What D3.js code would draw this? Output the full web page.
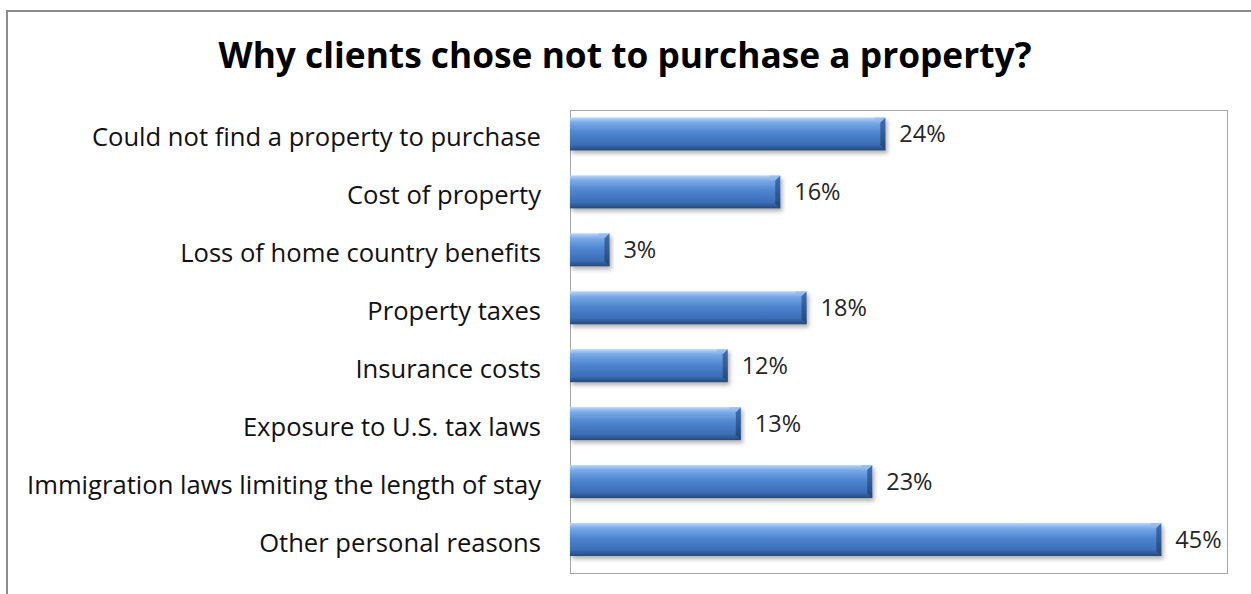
<!DOCTYPE html>
<meta charset="utf-8">
<style>
body { margin: 0; background: #fff; }
svg text { font-family: "Open Sans", sans-serif; }
</style>
<svg id="svg" width="1251" height="594"></svg>
<script src="https://cdn.jsdelivr.net/npm/d3@7"></script>
<script>
// chart data
var categories = [
    "Could not find a property to purchase",
    "Cost of property",
    "Loss of home country benefits",
    "Property taxes",
    "Insurance costs",
    "Exposure to U.S. tax laws",
    "Immigration laws limiting the length of stay",
    "Other personal reasons"
];
var shares = [0.24, 0.16, 0.03, 0.18, 0.12, 0.13, 0.23, 0.45];
var title = "Why clients chose not to purchase a property?";

var svg = d3.select("svg"),
    width = +svg.attr("width"),
    height = +svg.attr("height");

// plot box
var plotLeft = 570, plotRight = 1227, plotTop = 110, plotBottom = 573;

var x = d3.scaleLinear()
    .domain([0, 0.5])
    .range([plotLeft, plotRight]);

var y = d3.scaleBand()
    .domain(categories)
    .range([105, 568.5])
    .padding(0);

var barH = y.bandwidth() * 0.57;
var fmt = d3.format(".0%");

var defs = svg.append("defs");

var face = defs.append("linearGradient")
    .attr("id", "barFace")
    .attr("x1", 0).attr("y1", 0).attr("x2", 0).attr("y2", 1);
face.append("stop").attr("offset", "0%").attr("stop-color", "#bcd5f4");
face.append("stop").attr("offset", "16%").attr("stop-color", "#78a8e6");
face.append("stop").attr("offset", "45%").attr("stop-color", "#4f86d0");
face.append("stop").attr("offset", "82%").attr("stop-color", "#3b6db6");
face.append("stop").attr("offset", "100%").attr("stop-color", "#24497d");

var end = defs.append("linearGradient")
    .attr("id", "barEnd")
    .attr("x1", 0).attr("y1", 0).attr("x2", 0).attr("y2", 1);
end.append("stop").attr("offset", "0%").attr("stop-color", "#3f70b3");
end.append("stop").attr("offset", "100%").attr("stop-color", "#23477a");

var shadow = defs.append("filter")
    .attr("id", "shadow")
    .attr("x", "-5%").attr("y", "-30%")
    .attr("width", "115%").attr("height", "180%");
shadow.append("feDropShadow")
    .attr("dx", 2).attr("dy", 3)
    .attr("stdDeviation", 2)
    .attr("flood-color", "#000")
    .attr("flood-opacity", 0.3);

// outer chart border (left and top only are visible)
svg.append("path")
    .attr("d", "M7," + height + "V11H" + width)
    .attr("fill", "none")
    .attr("stroke", "#8c8c8c")
    .attr("stroke-width", 2);

svg.append("text")
    .attr("x", 625)
    .attr("y", 68)
    .attr("text-anchor", "middle")
    .attr("font-size", "35.3px")
    .attr("font-weight", "bold")
    .attr("fill", "#000")
    .text(title);

svg.append("rect")
    .attr("x", plotLeft + 0.5)
    .attr("y", plotTop + 0.5)
    .attr("width", plotRight - plotLeft)
    .attr("height", plotBottom - plotTop)
    .attr("fill", "none")
    .attr("stroke", "#a6a6a6")
    .attr("stroke-width", 1);

// category labels
svg.append("g")
    .selectAll("text")
    .data(categories)
    .enter().append("text")
    .attr("x", 541)
    .attr("y", function(d) { return y(d) + y.bandwidth() / 2; })
    .attr("dy", "0.47em")
    .attr("text-anchor", "end")
    .attr("font-size", "25.6px")
    .attr("fill", "#111")
    .text(function(d) { return d; });

var bars = svg.append("g")
    .selectAll("g")
    .data(shares)
    .enter().append("g")
    .attr("filter", "url(#shadow)");

function barTop(d, i) { return y(categories[i]) + (y.bandwidth() - barH) / 2; }

bars.append("rect")
    .attr("x", x(0))
    .attr("y", barTop)
    .attr("width", function(d) { return x(d) - x(0); })
    .attr("height", barH)
    .attr("fill", "url(#barFace)");

// bevelled right end
var bev = 5;
bars.append("polygon")
    .attr("points", function(d, i) {
        var x1 = x(d), t = barTop(d, i);
        return [[x1 - bev, t + bev], [x1, t], [x1, t + barH], [x1 - bev, t + barH - bev]].join(" ");
    })
    .attr("fill", "url(#barEnd)");
bars.append("polygon")
    .attr("points", function(d, i) {
        var x1 = x(d), t = barTop(d, i);
        return [[x1 - bev - 6, t], [x1, t], [x1 - bev, t + bev], [x1 - bev - 6, t + bev]].join(" ");
    })
    .attr("fill", "#8fb6ea")
    .attr("opacity", 0.6);

// value labels
svg.append("g")
    .selectAll("text")
    .data(shares)
    .enter().append("text")
    .attr("x", function(d) { return x(d) + 14; })
    .attr("y", function(d, i) { return y(categories[i]) + y.bandwidth() / 2; })
    .attr("dy", "0.34em")
    .attr("font-size", "23.5px")
    .attr("fill", "#262626")
    .text(function(d) { return fmt(d); });
</script>
